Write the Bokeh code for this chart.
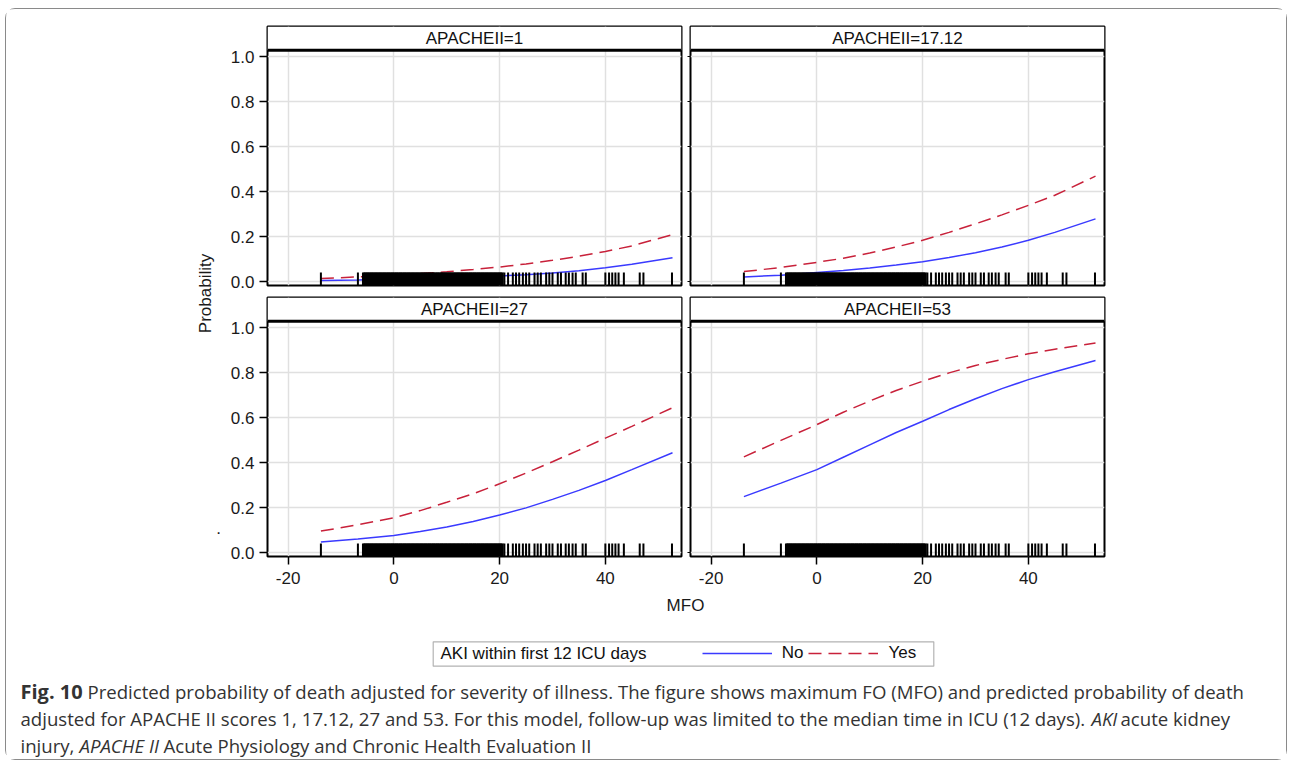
import math
from bokeh.plotting import figure
from bokeh.models import (Range1d, LinearAxis, Grid, FixedTicker, NumeralTickFormatter,
                          CustomJSTickFormatter, Label, BoxAnnotation, Span, Legend, LegendItem)
from bokeh.layouts import row, column
from bokeh.embed import file_html
from bokeh.resources import INLINE

# ---------------- data ----------------
panel_titles = ["APACHEII=1", "APACHEII=17.12", "APACHEII=27", "APACHEII=53"]
mfo_pts = [-13.8, -6.8, 0, 5, 10, 15, 20, 25, 30, 35, 40, 45, 52.7]

no_ap1 = [0.006, 0.008, 0.012, 0.015, 0.018, 0.022, 0.026, 0.032, 0.040, 0.050, 0.063, 0.078, 0.107]
yes_ap1 = [0.015, 0.022, 0.030, 0.037, 0.045, 0.055, 0.066, 0.080, 0.096, 0.114, 0.135, 0.160, 0.210]
no_ap17 = [0.022, 0.030, 0.042, 0.051, 0.062, 0.075, 0.090, 0.108, 0.130, 0.155, 0.185, 0.220, 0.280]
yes_ap17 = [0.046, 0.064, 0.087, 0.105, 0.128, 0.155, 0.185, 0.220, 0.258, 0.298, 0.340, 0.385, 0.470]
no_ap27 = [0.048, 0.062, 0.077, 0.095, 0.115, 0.140, 0.168, 0.200, 0.238, 0.278, 0.322, 0.370, 0.445]
yes_ap27 = [0.097, 0.125, 0.156, 0.188, 0.225, 0.263, 0.307, 0.355, 0.405, 0.457, 0.510, 0.562, 0.645]
no_ap53 = [0.250, 0.310, 0.370, 0.425, 0.480, 0.535, 0.585, 0.637, 0.685, 0.730, 0.770, 0.805, 0.855]
yes_ap53 = [0.427, 0.500, 0.570, 0.625, 0.675, 0.722, 0.763, 0.800, 0.833, 0.860, 0.885, 0.905, 0.933]

# observed MFO values (rug): densely packed part and isolated values
rug_dense_mfo = [
    -5.75, -5.5, -5.25, -5.0, -4.75, -4.5, -4.25, -4.0, -3.75, -3.5, -3.25, -3.0,
    -2.75, -2.5, -2.25, -2.0, -1.75, -1.5, -1.25, -1.0, -0.75, -0.5, -0.25, 0.0,
    0.25, 0.5, 0.75, 1.0, 1.25, 1.5, 1.75, 2.0, 2.25, 2.5, 2.75, 3.0, 3.25, 3.5,
    3.75, 4.0, 4.25, 4.5, 4.75, 5.0, 5.25, 5.5, 5.75, 6.0, 6.25, 6.5, 6.75, 7.0,
    7.25, 7.5, 7.75, 8.0, 8.25, 8.5, 8.75, 9.0, 9.25, 9.5, 9.75, 10.0, 10.25, 10.5,
    10.75, 11.0, 11.25, 11.5, 11.75, 12.0, 12.25, 12.5, 12.75, 13.0, 13.25, 13.5,
    13.75, 14.0, 14.25, 14.5, 14.75, 15.0, 15.25, 15.5, 15.75, 16.0, 16.25, 16.5,
    16.75, 17.0, 17.25, 17.5, 17.75, 18.0, 18.25, 18.5, 18.75, 19.0, 19.25, 19.5,
    19.75, 20.0, 20.25, 20.5]
rug_sparse_mfo = [
    -13.8, -6.8,
    20.9, 21.6, 22.5, 23.1, 23.7, 24.4, 25.0, 25.6, 26.6, 27.2, 27.8, 28.8, 29.4,
    30.0, 31.0, 31.6, 32.5, 33.1, 33.8, 34.4, 35.7, 36.3, 40.0, 40.7, 41.3, 41.9,
    42.5, 43.5, 46.5, 47.2, 52.6]

x_ticks = [-20, 0, 20, 40]
y_ticks = [0.0, 0.2, 0.4, 0.6, 0.8, 1.0]
legend_title = "AKI within first 12 ICU days"
legend_labels = ["No", "Yes"]

# ---------------- style ----------------
FONT = "Liberation Sans"
CAP_FONT = "Open Sans"
BLUE = "#3a3aff"
RED = "#c8213a"
GRID = "#e0e0e0"
X_LO, X_HI = -23.9, 54.4
Y_LO, Y_HI = -0.016, 1.135
HEADER_Y = 1.03
RUG_TOP = 0.042
FW, FH = 414, 259


def no_default_grid(p):
    p.xgrid.visible = False
    p.ygrid.visible = False


def add_rug(p, xs, width):
    n = len(xs)
    p.segment(x0=xs, y0=[Y_LO] * n, x1=xs, y1=[RUG_TOP] * n,
              line_color="black", line_width=width)


def make_panel(title, no_vals, yes_vals, left_labels, bottom_axis, mb):
    left, right, top, bottom = mb
    p = figure(width=left + FW + right, height=top + FH + bottom,
               x_range=Range1d(X_LO, X_HI), y_range=Range1d(Y_LO, Y_HI),
               x_axis_location=None, y_axis_location=None,
               toolbar_location=None, output_backend="svg",
               min_border_left=left, min_border_right=right,
               min_border_top=top, min_border_bottom=bottom)
    no_default_grid(p)
    p.outline_line_color = "black"
    p.outline_line_width = 2
    p.add_layout(Grid(dimension=0, ticker=FixedTicker(ticks=x_ticks),
                      grid_line_color=GRID, grid_line_width=1.5))
    p.add_layout(Grid(dimension=1, ticker=FixedTicker(ticks=y_ticks),
                      grid_line_color=GRID, grid_line_width=1.5))

    p.line(mfo_pts, no_vals, line_color=BLUE, line_width=1.5)
    p.line(mfo_pts, yes_vals, line_color=RED, line_width=1.5, line_dash="13 7")
    add_rug(p, rug_dense_mfo, 3)
    add_rug(p, rug_sparse_mfo, 2)

    # header strip
    p.add_layout(BoxAnnotation(bottom=HEADER_Y, fill_color="white", fill_alpha=1.0,
                               line_color=None))
    p.add_layout(Span(location=HEADER_Y, dimension="width", line_color="black",
                      line_width=3))
    p.add_layout(Label(x=(X_LO + X_HI) / 2, y=(HEADER_Y + Y_HI) / 2, text=title,
                       text_align="center", text_baseline="middle",
                       text_font=FONT, text_font_size="17px", text_color="#111111"))

    if left_labels:
        ya = LinearAxis(ticker=FixedTicker(ticks=y_ticks),
                        formatter=NumeralTickFormatter(format="0.0"),
                        major_tick_out=8, major_tick_in=0, minor_tick_out=0, minor_tick_in=0,
                        major_tick_line_width=1.5, axis_line_color=None,
                        major_label_standoff=5, major_label_text_font=FONT,
                        major_label_text_font_size="17px", major_label_text_color="#1a1a1a")
    else:
        ya = LinearAxis(ticker=FixedTicker(ticks=y_ticks),
                        formatter=CustomJSTickFormatter(code="return ''"),
                        major_tick_out=3, major_tick_in=0, minor_tick_out=0, minor_tick_in=0,
                        major_tick_line_width=1.2, axis_line_color=None,
                        major_label_standoff=0, major_label_text_font_size="1px")
    p.add_layout(ya, "left")

    if bottom_axis:
        xa = LinearAxis(ticker=FixedTicker(ticks=x_ticks),
                        formatter=NumeralTickFormatter(format="0"),
                        major_tick_out=8, major_tick_in=0, minor_tick_out=0, minor_tick_in=0,
                        major_tick_line_width=1.5, axis_line_color=None,
                        major_label_standoff=7, major_label_text_font=FONT,
                        major_label_text_font_size="17px", major_label_text_color="#1a1a1a")
        p.add_layout(xa, "below")
    return p


tl = make_panel(panel_titles[0], no_ap1, yes_ap1, True, False, (47, 2, 17, 10))
tr = make_panel(panel_titles[1], no_ap17, yes_ap17, False, False, (7, 182, 17, 10))
bl = make_panel(panel_titles[2], no_ap27, yes_ap27, True, True, (47, 2, 2, 38))
br = make_panel(panel_titles[3], no_ap53, yes_ap53, False, True, (7, 182, 2, 38))

TOP_H = 17 + FH + 10
BOT_H = 2 + FH + 38

# y-axis label column
ylab = figure(width=214, height=TOP_H + BOT_H, x_range=Range1d(0, 214),
              y_range=Range1d(TOP_H + BOT_H, 0), x_axis_location=None, y_axis_location=None,
              toolbar_location=None, output_backend="svg", min_border=0)
no_default_grid(ylab)
ylab.outline_line_color = None
ylab.add_layout(Label(x=199, y=284, text="Probability", angle=math.pi / 2,
                      text_align="center", text_baseline="middle",
                      text_font=FONT, text_font_size="17px", text_color="#1a1a1a"))
ylab.add_layout(Label(x=212, y=518, text=".", text_align="center", text_baseline="alphabetic",
                      text_font=FONT, text_font_size="17px", text_color="#1a1a1a"))

# footer: x-axis label, legend, caption
FOOT_W, FOOT_H = 1280, 165
foot = figure(width=FOOT_W, height=FOOT_H, x_range=Range1d(0, FOOT_W),
              y_range=Range1d(FOOT_H, 0), x_axis_location=None, y_axis_location=None,
              toolbar_location=None, output_backend="svg", min_border=0)
no_default_grid(foot)
foot.outline_line_color = None
foot.add_layout(Label(x=679, y=11, text="MFO", text_align="center", text_baseline="middle",
                      text_font=FONT, text_font_size="17px", text_color="#1a1a1a"))

foot.add_layout(BoxAnnotation(left=426.7, right=927.3, top=47.3, bottom=71.7,
                              fill_alpha=0, line_color="black", line_width=1.2))
foot.add_layout(Label(x=434, y=59, text=legend_title, text_align="left", text_baseline="middle",
                      text_font=FONT, text_font_size="17px", text_color="#111111"))
# legend-only renderers (their data lie outside the visible frame)
r_no = foot.line(x=[-20, -10], y=[-20, -20], line_color=BLUE, line_width=1.5)
r_yes = foot.line(x=[-20, -10], y=[-20, -20], line_color=RED, line_width=1.5, line_dash="13 7")
leg = Legend(items=[LegendItem(label=legend_labels[0], renderers=[r_no]),
                    LegendItem(label=legend_labels[1], renderers=[r_yes])],
             orientation="horizontal", location=(695.7, 96), glyph_width=70, glyph_height=20,
             label_height=20, label_standoff=10, spacing=5, padding=0, margin=0,
             border_line_color=None, background_fill_alpha=0,
             label_text_font=FONT, label_text_font_size="17px", label_text_color="#111111",
             label_text_baseline="middle")
foot.add_layout(leg)

CAP = dict(text_font=CAP_FONT, text_font_size="18.6px", text_color="#333333",
           text_baseline="middle", text_align="left")
foot.add_layout(Label(x=14, y=97, text="Fig. 10", text_font_style="bold",
                      **{**CAP, "text_font_size": "20px"}))
foot.add_layout(Label(x=81, y=97, text="Predicted probability of death adjusted for severity of illness. "
                      "The figure shows maximum FO (MFO) and predicted probability of death", **CAP))
foot.add_layout(Label(x=14, y=124, text="adjusted for APACHE II scores 1, 17.12, 27 and 53. For this model, "
                      "follow-up was limited to the median time in ICU (12 days).", **CAP))
foot.add_layout(Label(x=1085, y=124, text="AKI", text_font_style="italic", **CAP))
foot.add_layout(Label(x=1114, y=124, text="acute kidney", **CAP))
foot.add_layout(Label(x=14, y=151, text="injury,", **CAP))
foot.add_layout(Label(x=73, y=151, text="APACHE II", text_font_style="italic", **CAP))
foot.add_layout(Label(x=157, y=151, text="Acute Physiology and Chronic Health Evaluation II", **CAP))

panels = column(row(tl, tr), row(bl, br))
layout = column(row(ylab, panels), foot,
                styles={"border": "1px solid #8a8a8a", "border-radius": "10px"},
                margin=(8, 0, 0, 5))

open("out.html", "w").write(file_html(layout, INLINE))
